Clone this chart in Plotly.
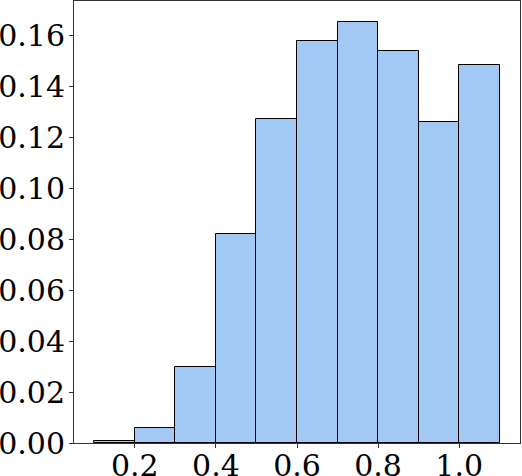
import plotly.graph_objects as go

# histogram bins (left edges) and density per bin
bin_left = [0.1, 0.2, 0.3, 0.4, 0.5, 0.6, 0.7, 0.8, 0.9, 1.0]
bin_width = 0.1
density = [0.0008, 0.0059, 0.0300, 0.0820, 0.1273, 0.1578, 0.1651, 0.1539, 0.1259, 0.1484]

x_ticks = [0.2, 0.4, 0.6, 0.8, 1.0]
y_ticks = [0.00, 0.02, 0.04, 0.06, 0.08, 0.10, 0.12, 0.14, 0.16]

centers = [b + bin_width / 2 for b in bin_left]

fig = go.Figure()
fig.add_trace(go.Bar(
    x=centers, y=density, width=[bin_width] * len(centers),
    marker=dict(color="#a1c9f4", line=dict(color="black", width=1)),
    showlegend=False,
))

axis_common = dict(
    showline=True, linecolor="#333333", linewidth=1, mirror=True,
    ticks="outside", ticklen=4, tickwidth=1, tickcolor="#333333",
    showgrid=False, zeroline=False, automargin=False,
    tickfont=dict(family="DejaVu Serif", size=30, color="black"),
)

fig.update_layout(
    width=522, height=476,
    margin=dict(l=74, r=2, t=1, b=33),
    plot_bgcolor="white", paper_bgcolor="white",
    bargap=0,
    xaxis=dict(range=[0.05, 1.15], tickvals=x_ticks, ticklabelstandoff=-8,
               ticktext=[f"{v:.1f}" for v in x_ticks], **axis_common),
    yaxis=dict(range=[0, 0.1734], tickvals=y_ticks, ticklabelstandoff=-2,
               ticktext=[f"{v:.2f}" for v in y_ticks], **axis_common),
)

# drop the page's default body margin so the figure sits at the window corner
fig.write_html("out.html", config={"displayModeBar": False},
               post_script="document.body.style.margin='0';")
